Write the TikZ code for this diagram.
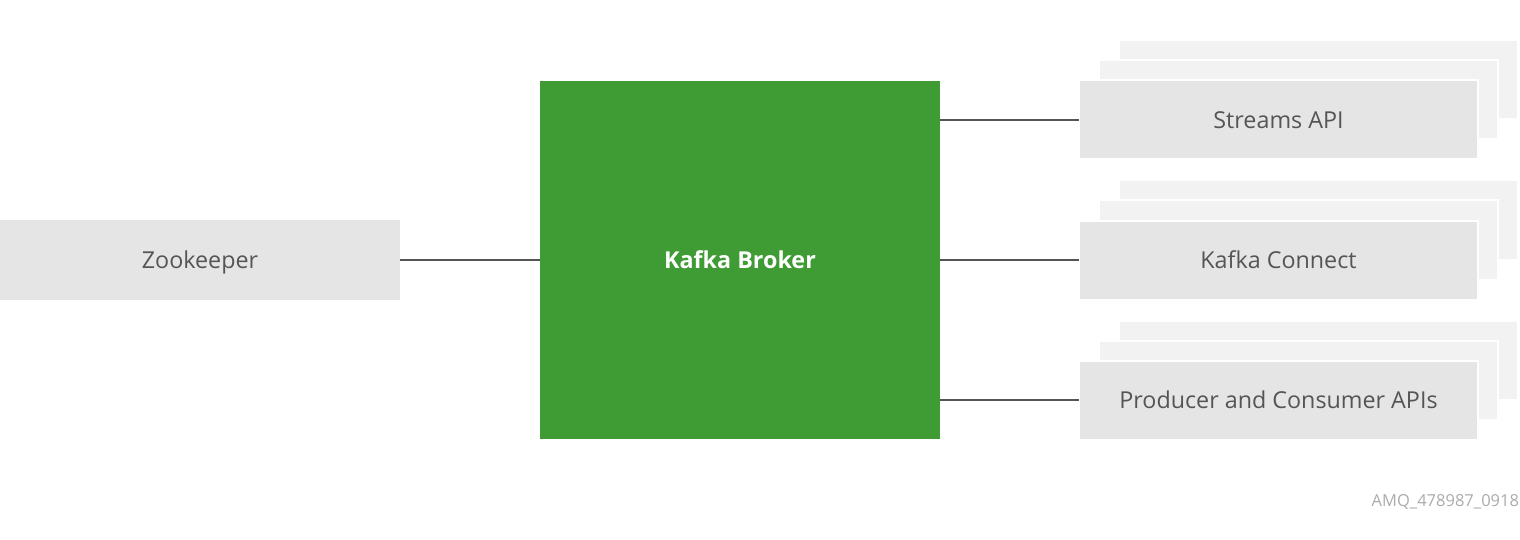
\documentclass[tikz,border=0pt]{standalone}
\usepackage{fontspec}
\setmainfont{Open Sans}
\usetikzlibrary{positioning}
\definecolor{boxgray}{HTML}{E5E5E5}
\definecolor{backgray}{HTML}{F2F2F2}
\definecolor{brokergreen}{HTML}{3F9C35}
\definecolor{txtgray}{HTML}{555555}
\definecolor{linegray}{HTML}{555555}
\definecolor{markgray}{HTML}{ABABAB}
\tikzstyle{component}=[rectangle,fill=boxgray,draw=white,line width=2pt,minimum width=399pt,minimum height=79pt,text=txtgray,text height=16.5pt,text depth=0pt,font=\fontsize{23.3}{27}\selectfont]
\tikzstyle{shadow}=[rectangle,fill=backgray,draw=white,line width=2pt,minimum width=399pt,minimum height=79pt]
\tikzstyle{broker}=[rectangle,fill=brokergreen,minimum width=400pt,minimum height=357pt,text=white,text height=16.5pt,text depth=0pt,font=\fontsize{23.3}{27}\selectfont\bfseries]
\tikzstyle{link}=[draw=linegray,line width=2.8pt]

\begin{document}
\begin{tikzpicture}[x=1pt,y=-1pt,inner sep=0pt,outer sep=0pt]
	\def \cx {1278.5};
	\def \off {20};

    \useasboundingbox (0,0) rectangle (1520,540);

    \node[component,draw=none,minimum width=400pt,minimum height=80pt] (zk) at (200,260) {Zookeeper};
    \node[broker] (kb) at (740,260) {Kafka Broker};
    \draw[link] (zk.east) -- (kb.west);

    \foreach \i/\y/\name in {1/120/Streams API, 2/260/Kafka Connect, 3/400/Producer and Consumer APIs} {
        \node[shadow] (b\i) at (\cx+2*\off, \y-2*\off) {};
        \node[shadow] (m\i) at (\cx+\off, \y-\off) {};
        \node[component] (c\i) at (\cx, \y) {\name};
        \coordinate (k\i) at (940, \y);
        \draw[link] (k\i) -- (c\i.west);
    };

    \node[text=markgray,anchor=base east,font=\fontsize{16.5}{20}\selectfont] (tag) at (1519,506) {AMQ\_478987\_0918};
\end{tikzpicture}
\end{document}
